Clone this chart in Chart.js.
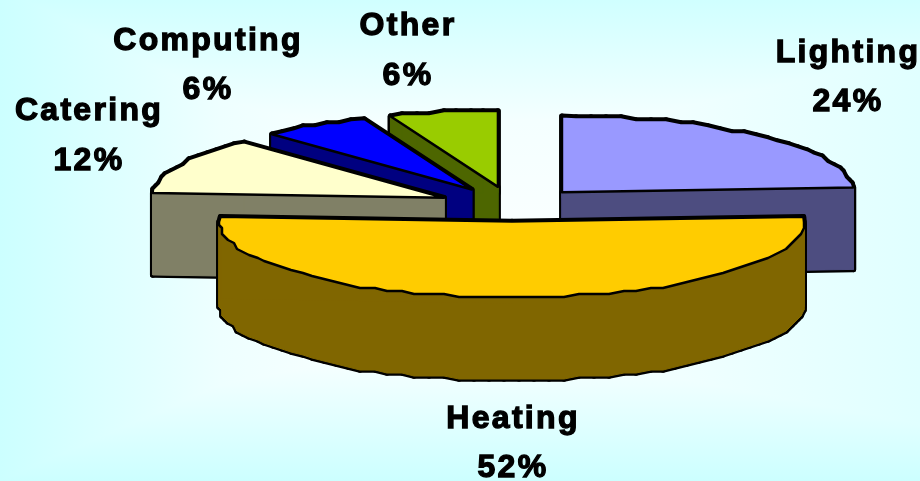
<!DOCTYPE html>
<html>
<head>
<meta charset="utf-8">
<title>Energy use</title>
<script src="https://cdn.jsdelivr.net/npm/chart.js@4"></script>
<style>
  html, body { margin: 0; padding: 0; overflow: hidden; }
  body {
    width: 920px;
    height: 481px;
    background-image:
      linear-gradient(to right, #ccffff 0%, #eeffff 24%, #ffffff 50%, #e0ffff 100%),
      linear-gradient(to bottom, #d0ffff 0%, #f4ffff 25%, #ffffff 70%, #ccffff 100%);
    background-blend-mode: darken;
  }
  canvas { display: block; }
</style>
</head>
<body>
<canvas id="pieChart" width="920" height="481"></canvas>
<script>
// Values
const categories = ['Lighting', 'Heating', 'Catering', 'Computing', 'Other'];
const shares = [24, 52, 12, 6, 6];
const topColors = ['#9999ff', '#ffcc00', '#ffffcc', '#0000ff', '#99cc00'];
const wallColors = ['#4d4d80', '#806600', '#808066', '#000080', '#4d6600'];
const explode = [292, 240, 300, 300, 300];

// Label centre x and the baselines of its two lines
const labelSpots = [
    { x: 848, y1: 62, y2: 111 },
    { x: 513, y1: 428, y2: 477 },
    { x: 89, y1: 120, y2: 170 },
    { x: 208, y1: 50, y2: 99 },
    { x: 408, y1: 35, y2: 85 }
];

const squash = 0.26;   // tilt of the pie
const depth = 82;      // height of the walls
const snap = 3;        // the outline in the picture is stepped

function snapped(v) {
    return Math.round(v / snap) * snap;
}

// Turn one arc of the pie into the points of its tilted top face
function topFace(arc) {
    const p = arc.getProps(['x', 'y', 'startAngle', 'endAngle', 'outerRadius']);
    const mid = (p.startAngle + p.endAngle) / 2;
    const off = (arc.options.offset || 0) / 4; // same as ArcElement.draw
    const cx = p.x + Math.cos(mid) * off;
    const cy = p.y + Math.sin(mid) * off * squash;
    const rx = p.outerRadius;
    const ry = rx * squash;
    const points = [{ x: cx, y: cy }];
    const steps = Math.ceil((p.endAngle - p.startAngle) / (3 * Math.PI / 180));
    for (let i = 0; i <= steps; i++) {
        const a = p.startAngle + (p.endAngle - p.startAngle) * i / steps;
        let x = cx + Math.cos(a) * rx;
        let y = cy + Math.sin(a) * ry;
        if (i > 0 && i < steps) {
            x = snapped(x);
            y = snapped(y);
        }
        points.push({ x: x, y: y });
    }
    return points;
}

function wallPath(ctx, a, b) {
    ctx.beginPath();
    ctx.moveTo(a.x, a.y);
    ctx.lineTo(b.x, b.y);
    ctx.lineTo(b.x, b.y + depth);
    ctx.lineTo(a.x, a.y + depth);
    ctx.closePath();
}

const pie3d = {
    id: 'pie3d',
    beforeDatasetDraw(chart, args) {
        const ctx = chart.ctx;
        const arcs = chart.getDatasetMeta(args.index).data;
        ctx.save();
        ctx.lineJoin = 'round';
        // back slices first, Heating goes on top of everything
        [4, 3, 2, 0, 1].forEach(i => {
            const points = topFace(arcs[i]);
            const edges = points.map((pt, j) => [pt, points[(j + 1) % points.length]]);

            // walls: a wide black stroke, then the fill leaves only the outer rim
            ctx.strokeStyle = '#000000';
            ctx.lineWidth = 5.5;
            edges.forEach(e => { wallPath(ctx, e[0], e[1]); ctx.stroke(); });
            ctx.fillStyle = wallColors[i];
            ctx.strokeStyle = wallColors[i];
            ctx.lineWidth = 1;
            edges.forEach(e => { wallPath(ctx, e[0], e[1]); ctx.fill(); ctx.stroke(); });

            // top face
            ctx.beginPath();
            points.forEach((pt, j) => {
                if (j === 0) ctx.moveTo(pt.x, pt.y);
                else ctx.lineTo(pt.x, pt.y);
            });
            ctx.closePath();
            ctx.fillStyle = topColors[i];
            ctx.fill();
            ctx.strokeStyle = '#000000';
            ctx.lineWidth = 2.5;
            ctx.stroke();
        });
        ctx.restore();
        return false; // the flat arcs are replaced by the ones above
    },
    afterDatasetsDraw(chart) {
        const ctx = chart.ctx;
        ctx.save();
        ctx.font = 'bold 32px "Liberation Sans", Arial, sans-serif';
        ctx.letterSpacing = '2.3px';
        ctx.textAlign = 'center';
        ctx.textBaseline = 'alphabetic';
        ctx.fillStyle = '#000000';
        ctx.strokeStyle = '#000000';
        ctx.lineWidth = 1.3;
        categories.forEach((name, i) => {
            const spot = labelSpots[i];
            const percent = shares[i] + '%';
            ctx.fillText(name, spot.x, spot.y1);
            ctx.strokeText(name, spot.x, spot.y1);
            ctx.fillText(percent, spot.x, spot.y2);
            ctx.strokeText(percent, spot.x, spot.y2);
        });
        ctx.restore();
    }
};

const ctx = document.getElementById('pieChart').getContext('2d');
const pieChart = new Chart(ctx, {
    type: 'pie',
    data: {
        labels: categories,
        datasets: [{
            data: shares,
            backgroundColor: topColors,
            borderColor: '#000000',
            borderWidth: 0,
            offset: explode,
            clip: false
        }]
    },
    options: {
        responsive: false,
        animation: false,
        radius: 292,
        layout: { padding: { left: 104, bottom: 69 } },
        plugins: {
            legend: { display: false },
            tooltip: { enabled: false }
        }
    },
    plugins: [pie3d]
});
</script>
</body>
</html>
